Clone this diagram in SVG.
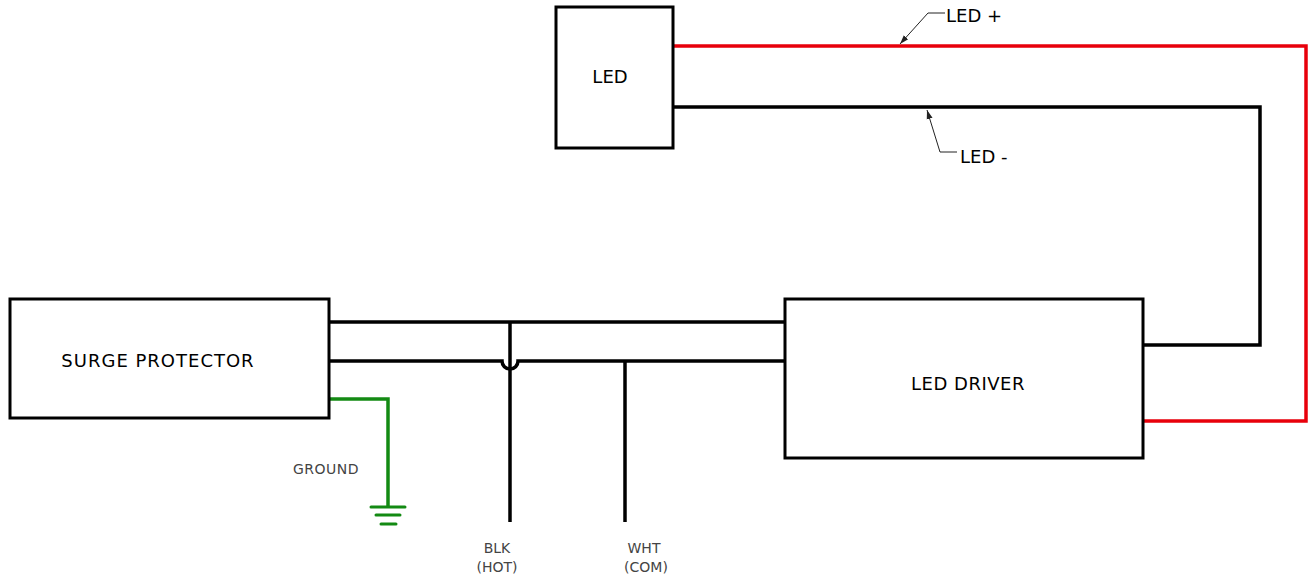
<svg xmlns="http://www.w3.org/2000/svg" width="1315" height="585" viewBox="0 0 1315 585">
<style>
.box{fill:#fff;stroke:#000;stroke-width:3}
.w{fill:none;stroke:#000;stroke-width:3.5;stroke-linejoin:miter}
.r{fill:none;stroke:#e8000b;stroke-width:3.5}
.g{fill:none;stroke:#138a13;stroke-width:3.5}
.gl{stroke:#138a13;stroke-width:3;stroke-linecap:round}
.t{font-family:"DejaVu Sans","Liberation Sans",sans-serif;fill:#000}
.s{font-family:"DejaVu Sans","Liberation Sans",sans-serif;fill:#444;font-size:14px}
.ld{fill:none;stroke:#222;stroke-width:1}
</style>
<defs>
<marker id="ah" markerWidth="10" markerHeight="8" refX="9" refY="4" orient="auto" markerUnits="userSpaceOnUse">
<path d="M0,1 L9,4 L0,7 Z" fill="#222"/>
</marker>
</defs>
<g id="connectors">
<polyline class="r" points="673,46 1306,46 1306,421 1143,421"/>
<polyline class="w" points="673,107 1260,107 1260,345 1143,345"/>
<line class="w" x1="329" y1="322" x2="785" y2="322"/>
<path class="w" d="M329,361 H502 A8,8 0 0 0 518,361 H785"/>
<line class="w" x1="510" y1="322" x2="510" y2="522"/>
<line class="w" x1="625" y1="361" x2="625" y2="522"/>
<polyline class="g" points="329,399 388,399 388,507"/>
<line class="gl" x1="371" y1="507" x2="405" y2="507"/>
<line class="gl" x1="376" y1="515" x2="400" y2="515"/>
<line class="gl" x1="381" y1="524" x2="396" y2="524"/>
<polyline class="ld" points="945,13 928,13 900,44" marker-end="url(#ah)"/>
<polyline class="ld" points="957,152 940,152 927,110" marker-end="url(#ah)"/>
</g>
<g id="led">
<rect class="box" x="556" y="7" width="117" height="141"/>
<text class="t" x="610" y="83" font-size="18" text-anchor="middle">LED</text>
</g>
<g id="surge-protector">
<rect class="box" x="10" y="299" width="319" height="119"/>
<text class="t" x="158" y="367" font-size="18" letter-spacing="1" text-anchor="middle">SURGE PROTECTOR</text>
</g>
<g id="led-driver">
<rect class="box" x="785" y="299" width="358" height="159"/>
<text class="t" x="968" y="390" font-size="18" letter-spacing="0.5" text-anchor="middle">LED DRIVER</text>
</g>
<g id="labels">
<text class="t" x="946" y="22" font-size="18">LED +</text>
<text class="t" x="960" y="163" font-size="18">LED -</text>
<text class="s" x="326" y="474" font-size="15" letter-spacing="0.5" text-anchor="middle">GROUND</text>
<text class="s" x="497" y="553" text-anchor="middle">BLK</text>
<text class="s" x="497" y="572" text-anchor="middle">(HOT)</text>
<text class="s" x="644" y="553" text-anchor="middle">WHT</text>
<text class="s" x="646" y="572" text-anchor="middle">(COM)</text>
</g>
</svg>
